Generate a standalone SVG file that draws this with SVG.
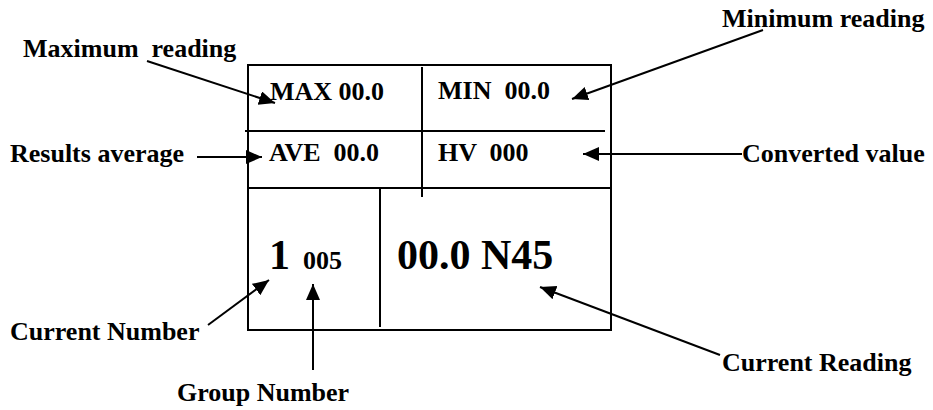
<svg xmlns="http://www.w3.org/2000/svg" width="933" height="410" viewBox="0 0 933 410">
<style>
.t{font-family:"Liberation Serif","Times New Roman",serif;font-weight:bold;fill:#000}
.lbl{font-size:26px}
.box{font-size:26px}
.big{font-size:42px}
.ln{stroke:#000;stroke-width:2;fill:none}
.arr{stroke:#000;stroke-width:2;fill:none;marker-end:url(#ah)}
</style>
<defs>
<marker id="ah" markerUnits="userSpaceOnUse" markerWidth="18" markerHeight="16" refX="16" refY="7" orient="auto">
<path d="M0,0 L16,7 L0,14 z" fill="#000"/>
</marker>
</defs>
<rect width="933" height="410" fill="#fff"/>
<g id="display">
<rect class="ln" x="248" y="65" width="363" height="265"/>
<line class="ln" x1="245" y1="131" x2="605" y2="131"/>
<line class="ln" x1="248" y1="188" x2="611" y2="188"/>
<line class="ln" x1="422" y1="67" x2="422" y2="197"/>
<line class="ln" x1="380" y1="188" x2="380" y2="327"/>
<text class="t box" x="270" y="100" xml:space="preserve">MAX 00.0</text>
<text class="t box" x="438" y="99" xml:space="preserve">MIN  00.0</text>
<text class="t box" x="269" y="161" xml:space="preserve">AVE  00.0</text>
<text class="t box" x="438" y="161" xml:space="preserve">HV  000</text>
<text class="t big" x="269" y="269">1</text>
<text class="t box" x="303" y="269">005</text>
<text class="t big" x="397" y="269">00.0 N45</text>
</g>
<g id="label-max"><text class="t lbl" x="23" y="57" xml:space="preserve">Maximum  reading</text></g>
<g id="label-min"><text class="t lbl" x="722" y="27">Minimum reading</text></g>
<g id="label-ave"><text class="t lbl" x="10" y="162">Results average</text></g>
<g id="label-hv"><text class="t lbl" x="742" y="162">Converted value</text></g>
<g id="label-curnum"><text class="t lbl" x="10" y="340">Current Number</text></g>
<g id="label-group"><text class="t lbl" x="177" y="401">Group Number</text></g>
<g id="label-reading"><text class="t lbl" x="722" y="371">Current Reading</text></g>
<g id="connectors">
<line class="arr" x1="147" y1="61" x2="275" y2="103"/>
<line class="arr" x1="763" y1="30" x2="572" y2="99"/>
<line class="arr" x1="197" y1="157" x2="262" y2="157"/>
<line class="arr" x1="742" y1="154" x2="583" y2="154"/>
<line class="arr" x1="208" y1="325" x2="269" y2="280"/>
<line class="arr" x1="313" y1="370" x2="313" y2="284"/>
<line class="arr" x1="720" y1="355" x2="540" y2="287"/>
</g>
</svg>
